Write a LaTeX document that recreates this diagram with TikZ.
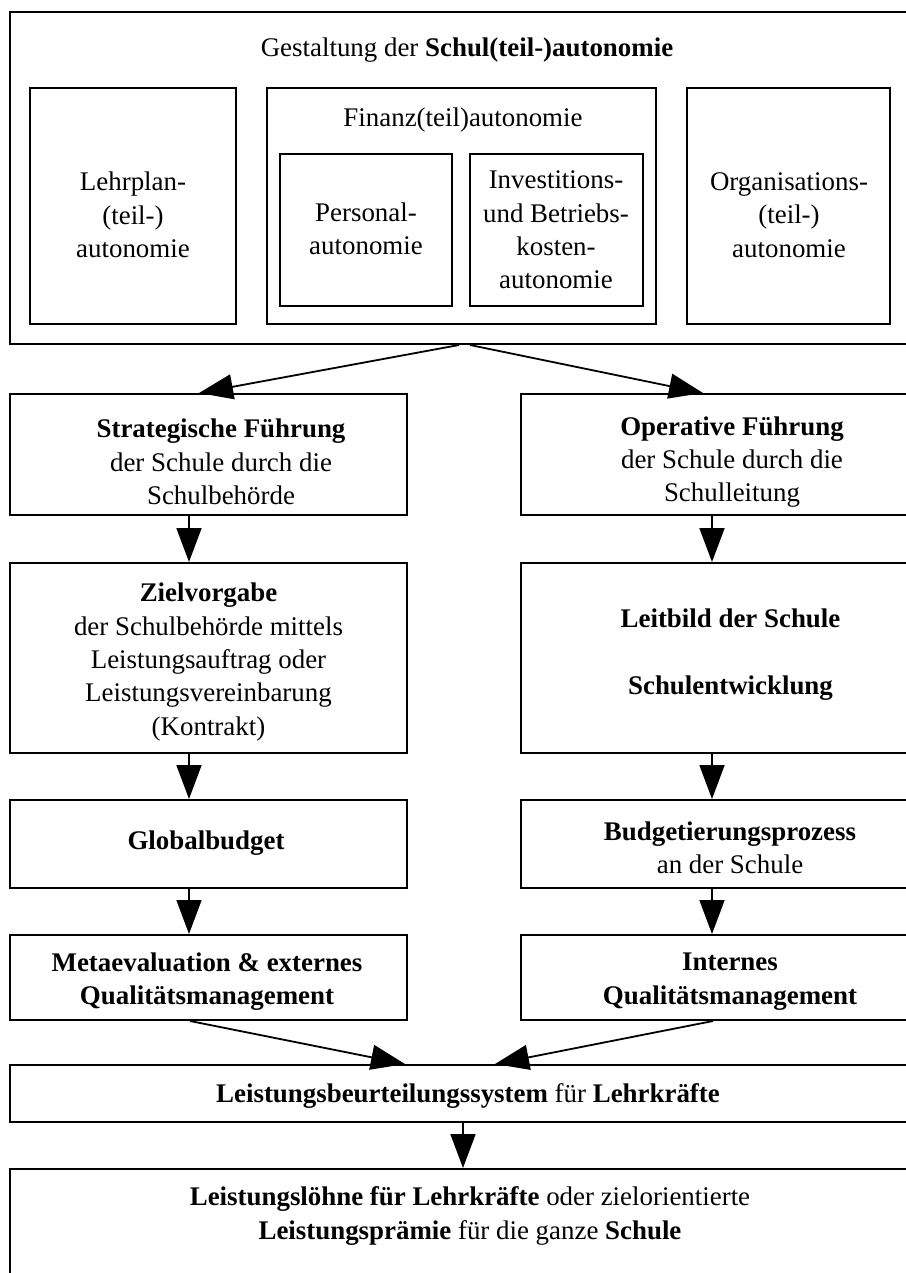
\documentclass[tikz,border=0pt]{standalone}
\usepackage{fontspec}
\setmainfont{Liberation Serif}
\usetikzlibrary{arrows.meta}
\begin{document}
\begin{tikzpicture}[x=0.5pt,y=-0.5pt,
 box/.style={draw, line width=1pt, rectangle, inner sep=0pt},
 txt/.style={align=center, inner sep=0pt, font=\fontsize{13.45pt}{16.7pt}\selectfont},
 arr/.style={line width=0.9pt, -{Triangle[length=17pt,width=12.5pt]}}]
\useasboundingbox (0,0) rectangle (905,1273);
% top block
\node[box, minimum width=454pt, minimum height=166pt] (top) at (464,178) {};
\node[txt] (toptxt) at (467,50) {Gestaltung der \textbf{Schul(teil-)autonomie}};
\node[box, minimum width=103pt, minimum height=118pt] (lehr) at (133,206) {};
\node[txt] (lehrtxt) at (133,215) {Lehrplan-\\(teil-)\\autonomie};
\node[box, minimum width=194.5pt, minimum height=118pt] (fin) at (461.5,206) {};
\node[txt] (fintxt) at (463,120) {Finanz(teil)autonomie};
\node[box, minimum width=86pt, minimum height=76pt] (pers) at (366,230) {};
\node[txt] (perstxt) at (366,229) {Personal-\\autonomie};
\node[box, minimum width=86.5pt, minimum height=76pt] (inv) at (556.5,230) {};
\node[txt] (invtxt) at (556,230) {Investitions-\\und Betriebs-\\kosten-\\autonomie};
\node[box, minimum width=101.5pt, minimum height=118pt] (org) at (788.5,206) {};
\node[txt] (orgtxt) at (789,215) {Organisations-\\(teil-)\\autonomie};
% left column
\node[box, minimum width=198.5pt, minimum height=60.5pt] (strat) at (208.5,454.5) {};
\node[txt] (strattxt) at (221,462) {\textbf{Strategische Führung}\\der Schule durch die\\Schulbehörde};
\node[box, minimum width=198.5pt, minimum height=95pt] (ziel) at (208.5,658) {};
\node[txt] (zieltxt) at (208.5,662) {\textbf{Zielvorgabe}\\der Schulbehörde mittels\\Leistungsauftrag oder\\Leistungsvereinbarung\\(Kontrakt)};
\node[box, minimum width=198.5pt, minimum height=44pt] (glob) at (208.5,844) {};
\node[txt] (globtxt) at (206,843) {\textbf{Globalbudget}};
\node[box, minimum width=198.5pt, minimum height=42.5pt] (meta) at (208.5,977.5) {};
\node[txt] (metatxt) at (207,981.5) {\textbf{Metaevaluation \& externes}\\\textbf{Qualitätsmanagement}};
% right column
\node[box, minimum width=198.5pt, minimum height=60.5pt] (oper) at (719.5,454.5) {};
\node[txt] (opertxt) at (732,462) {\textbf{Operative Führung}\\der Schule durch die\\Schulleitung};
\node[box, minimum width=198.5pt, minimum height=95pt] (leit) at (719.5,658) {};
\node[txt] (leittxt) at (730.5,655) {\textbf{Leitbild der Schule}\\[16.7pt]\textbf{Schulentwicklung}};
\node[box, minimum width=198.5pt, minimum height=44pt] (budg) at (719.5,844) {};
\node[txt] (budgtxt) at (730,847.5) {\textbf{Budgetierungsprozess}\\an der Schule};
\node[box, minimum width=198.5pt, minimum height=42.5pt] (intern) at (719.5,977.5) {};
\node[txt] (interntxt) at (730,981.5) {\textbf{Internes}\\\textbf{Qualitätsmanagement}};
% bottom
\node[box, minimum width=454pt, minimum height=28.5pt] (lb) at (464,1093.5) {};
\node[txt] (lbtxt) at (468,1096) {\textbf{Leistungsbeurteilungssystem} für \textbf{Lehrkräfte}};
\node[box, minimum width=454pt, minimum height=60.5pt] (lohn) at (464,1229.5) {};
\node[txt] (lohntxt) at (470,1216) {\textbf{Leistungslöhne für Lehrkräfte} oder zielorientierte\\\textbf{Leistungsprämie} für die ganze \textbf{Schule}};
% connectors
\draw[arr] ([xshift=-2.5pt]top.south) -- ([xshift=-4.75pt]strat.north);
\draw[arr] ([xshift=3pt]top.south) -- ([xshift=-8.25pt]oper.north);
\draw[arr] ([xshift=-9.75pt]strat.south) -- ([xshift=-9.75pt]ziel.north);
\draw[arr] ([xshift=-9.75pt]ziel.south) -- ([xshift=-9.75pt]glob.north);
\draw[arr] ([xshift=-9.75pt]glob.south) -- ([xshift=-9.75pt]meta.north);
\draw[arr] ([xshift=-3.75pt]oper.south) -- ([xshift=-3.75pt]leit.north);
\draw[arr] ([xshift=-3.75pt]leit.south) -- ([xshift=-3.75pt]budg.north);
\draw[arr] ([xshift=-3.75pt]budg.south) -- ([xshift=-3.75pt]intern.north);
\draw[arr] ([xshift=-9.25pt]meta.south) -- ([xshift=-29.5pt]lb.north);
\draw[arr] ([xshift=-3.25pt]intern.south) -- ([xshift=15.5pt]lb.north);
\draw[arr] ([xshift=-0.5pt]lb.south) -- ([xshift=-0.5pt]lohn.north);
\end{tikzpicture}
\end{document}
